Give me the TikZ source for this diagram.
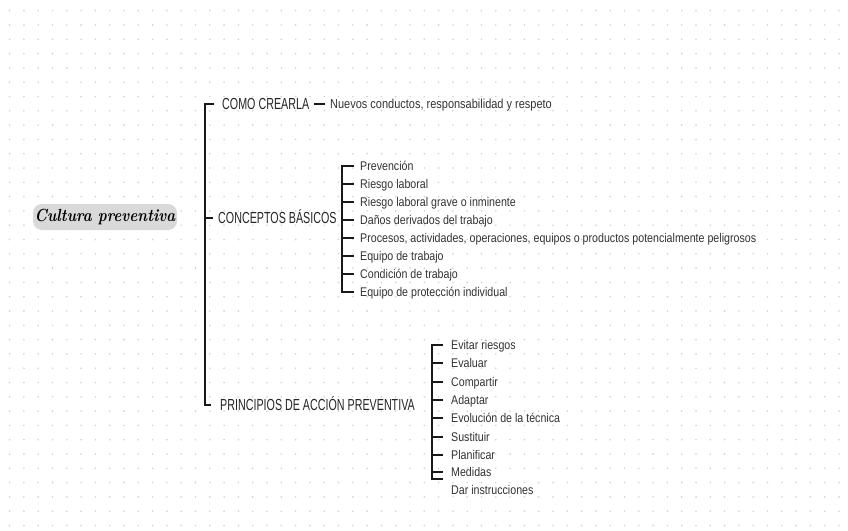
\documentclass[tikz,border=0pt]{standalone}
\usepackage{fontspec}
\newfontfamily\headfont{Liberation Sans}[FakeStretch=0.67]
\newfontfamily\itemfont{Liberation Sans}[FakeStretch=0.845]
\begin{document}
\begin{tikzpicture}[x=1pt, y=-1pt,
  head/.style={anchor=west, inner sep=0pt, text height=11.5pt, text depth=0pt,
               font=\headfont\fontsize{16}{18}\selectfont, text=black!85},
  item/.style={anchor=west, inner sep=0pt, text height=9pt, text depth=0pt,
               font=\itemfont\fontsize{12.6}{15}\selectfont, text=black!80},
  bar/.style={line width=2.8pt, black!90, line join=miter},
  dashline/.style={line width=2pt, black!90, shorten <=5pt, shorten >=5pt}
]
  \useasboundingbox[fill=white] (0,0) rectangle (848,530);

  % Fondo de puntos
  \foreach \i in {0,...,58}
    \foreach \j in {0,...,36}
      \fill[gray!35] (9.6+14.3*\i, 10.7+14.3*\j) circle[radius=0.9pt];

  % Titulo
  \node[fill=gray!30, rounded corners=9pt, minimum width=144pt, minimum height=26pt,
        inner sep=0pt, font=\fontsize{17.5}{20}\selectfont\bfseries\itshape] (titulo)
        at (105,217) {\scalebox{0.86}[1]{Cultura preventiva}};

  % Ramas principales
  \coordinate (tronco) at (205,0);
  \node[head] (como) at (222,104) {COMO CREARLA};
  \node[item, font=\itemfont\fontsize{13}{15}\selectfont] (nuevos) at (330,104)
        {Nuevos conductos, responsabilidad y respeto};
  \node[head] (conceptos) at (218,218) {CONCEPTOS BÁSICOS};
  \node[head] (principios) at (220,405) {PRINCIPIOS DE ACCIÓN PREVENTIVA};

  \draw[bar] ([xshift=-8pt]como.west) -| (principios.west -| tronco)
             -- ([xshift=-9pt]principios.west);
  \draw[bar] (conceptos.west -| tronco) -- ([xshift=-5pt]conceptos.west);
  \draw[dashline] (como.east) -- (nuevos.west);

  % Conceptos basicos
  \coordinate (llave2) at (342,0);
  \node[item] (c1) at (360,166) {Prevención};
  \node[item] (c2) at (360,184) {Riesgo laboral};
  \node[item] (c3) at (360,202) {Riesgo laboral grave o inminente};
  \node[item] (c4) at (360,220) {Daños derivados del trabajo};
  \node[item] (c5) at (360,238) {Procesos, actividades, operaciones, equipos o productos potencialmente peligrosos};
  \node[item] (c6) at (360,256) {Equipo de trabajo};
  \node[item] (c7) at (360,274) {Condición de trabajo};
  \node[item] (c8) at (360,292) {Equipo de protección individual};

  \draw[bar] ([xshift=-6pt]c1.west) -| (c8.west -| llave2) -- ([xshift=-6pt]c8.west);
  \foreach \n in {c2,c3,c4,c5,c6,c7}
    \draw[bar] (\n.west -| llave2) -- ([xshift=-6pt]\n.west);

  % Principios de accion preventiva
  \coordinate (llave3) at (432,0);
  \node[item] (p1) at (451,345) {Evitar riesgos};
  \node[item] (p2) at (451,363) {Evaluar};
  \node[item] (p3) at (451,382) {Compartir};
  \node[item] (p4) at (451,400) {Adaptar};
  \node[item] (p5) at (451,418) {Evolución de la técnica};
  \node[item] (p6) at (451,437) {Sustituir};
  \node[item] (p7) at (451,455) {Planificar};
  \node[item] (p8) at (451,472) {Medidas};
  \node[item] (p9) at (451,490) {Dar instrucciones};

  \draw[bar] ([xshift=-8pt]p1.west) -| ([yshift=11pt]p9.west -| llave3)
             -- ([xshift=-8pt, yshift=11pt]p9.west);
  \foreach \n in {p2,p3,p4,p5,p6,p7,p8}
    \draw[bar] (\n.west -| llave3) -- ([xshift=-8pt]\n.west);
\end{tikzpicture}
\end{document}
